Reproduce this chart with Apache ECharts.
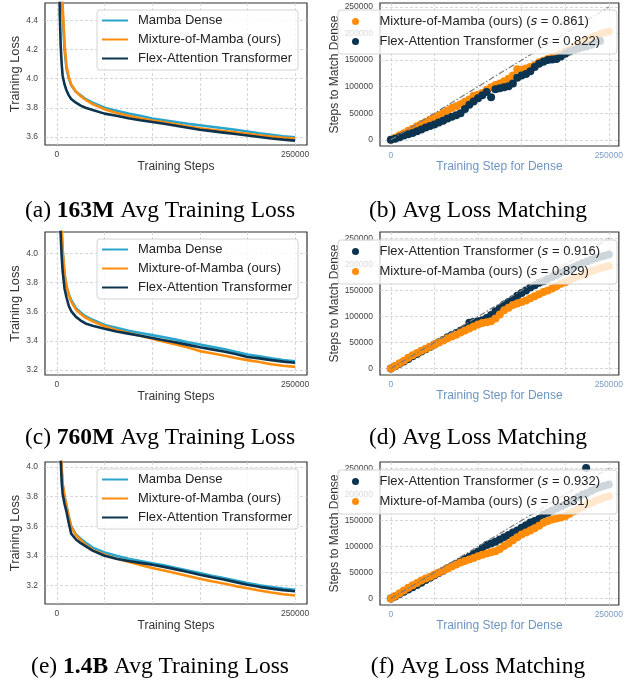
<!DOCTYPE html>
<html>
<head>
<meta charset="utf-8">
<title>Mixture-of-Mamba: training loss and loss matching</title>
<script src="https://cdn.jsdelivr.net/npm/echarts@6/dist/echarts.min.js"></script>
<style>
    html, body { margin: 0; padding: 0; background: #fff; }
    #chart { width: 626px; height: 683px; }
</style>
</head>
<body>
<div id="chart"></div>
<script>
// ---- training loss curves (left column) ----
var lossSteps = [1000, 2000, 3000, 4000, 5000, 6000, 8000, 10000, 12500, 15000, 20000, 25000, 30000, 37500, 50000,
    62500, 75000, 87500, 100000, 112500, 125000, 137500, 150000, 162500, 175000, 187500, 200000, 212500, 225000, 237500, 250000];

// 163M
var denseA = [7.5, 6.0, 5.2, 4.8, 4.6, 4.45, 4.2, 4.07, 4.0, 3.955, 3.91, 3.885, 3.86, 3.835, 3.80,
    3.78, 3.76, 3.745, 3.727, 3.715, 3.703, 3.69, 3.68, 3.67, 3.66, 3.65, 3.638, 3.625, 3.615, 3.605, 3.598];
var mixA = [7.6, 6.1, 5.3, 4.88, 4.66, 4.5, 4.24, 4.09, 4.01, 3.96, 3.91, 3.88, 3.855, 3.825, 3.79,
    3.765, 3.745, 3.728, 3.712, 3.70, 3.687, 3.672, 3.66, 3.65, 3.64, 3.632, 3.622, 3.612, 3.603, 3.595, 3.59];
var flexA = [6.5, 5.0, 4.45, 4.22, 4.1, 4.02, 3.96, 3.92, 3.885, 3.86, 3.835, 3.815, 3.80, 3.785, 3.76,
    3.745, 3.728, 3.715, 3.703, 3.69, 3.677, 3.663, 3.65, 3.64, 3.63, 3.62, 3.61, 3.60, 3.59, 3.582, 3.575];
// 760M
var denseC = [7.0, 5.5, 4.7, 4.35, 4.15, 4.02, 3.86, 3.78, 3.72, 3.68, 3.625, 3.595, 3.57, 3.545, 3.51,
    3.49, 3.47, 3.455, 3.44, 3.425, 3.41, 3.39, 3.375, 3.36, 3.345, 3.325, 3.307, 3.295, 3.28, 3.268, 3.26];
var mixC = [7.1, 5.6, 4.75, 4.38, 4.17, 4.03, 3.86, 3.775, 3.715, 3.67, 3.615, 3.585, 3.56, 3.535, 3.50,
    3.475, 3.455, 3.435, 3.415, 3.395, 3.375, 3.355, 3.33, 3.315, 3.30, 3.283, 3.268, 3.255, 3.24, 3.23, 3.222];
var flexC = [6.6, 5.0, 4.4, 4.12, 3.98, 3.88, 3.76, 3.70, 3.64, 3.605, 3.565, 3.54, 3.52, 3.505, 3.484,
    3.465, 3.45, 3.435, 3.42, 3.405, 3.39, 3.373, 3.357, 3.342, 3.327, 3.31, 3.29, 3.28, 3.268, 3.258, 3.25];
// 1.4B
var denseE = [7.0, 5.4, 4.6, 4.2, 3.98, 3.88, 3.8, 3.74, 3.665, 3.60, 3.545, 3.515, 3.49, 3.455, 3.423,
    3.40, 3.38, 3.365, 3.35, 3.335, 3.318, 3.30, 3.283, 3.265, 3.25, 3.233, 3.216, 3.20, 3.188, 3.178, 3.17];
var mixE = [7.1, 5.5, 4.65, 4.22, 4.0, 3.89, 3.8, 3.735, 3.66, 3.595, 3.54, 3.505, 3.475, 3.44, 3.407,
    3.38, 3.36, 3.338, 3.317, 3.30, 3.282, 3.263, 3.245, 3.228, 3.212, 3.195, 3.18, 3.165, 3.152, 3.14, 3.132];
var flexE = [6.6, 5.0, 4.35, 4.05, 3.9, 3.82, 3.75, 3.70, 3.62, 3.55, 3.51, 3.485, 3.465, 3.435, 3.40,
    3.38, 3.365, 3.352, 3.34, 3.325, 3.308, 3.29, 3.272, 3.255, 3.24, 3.222, 3.204, 3.19, 3.178, 3.168, 3.16];

var stepTicks = [0, 50000, 100000, 150000, 200000, 250000];
var stepLabels = [0, 250000];
var lossTicksA = [3.6, 3.8, 4.0, 4.2, 4.4];
var lossTicksCE = [3.2, 3.4, 3.6, 3.8, 4.0];

// ---- loss matching scatter (right column) ----
var matchSteps = [0, 5000, 10000, 15000, 20000, 25000, 30000, 35000, 40000, 45000,
    50000, 55000, 60000, 65000, 70000, 75000, 80000, 85000, 90000, 95000,
    100000, 105000, 110000, 115000, 120000, 125000, 130000, 135000, 140000, 145000,
    150000, 155000, 160000, 165000, 170000, 175000, 180000, 185000, 190000, 195000,
    200000, 205000, 210000, 215000, 220000, 225000, 230000, 235000, 240000, 245000, 250000];

var mixB = [0, 4000, 8500, 12500, 17000, 21000, 25500, 29500, 33500, 37500,
    41500, 46000, 50500, 55000, 60000, 63000, 67000, 71500, 76000, 83000,
    85000, 88000, 94000, 99000, 103000, 106000, 110000, 115000, 121000, 133000,
    132000, 134000, 137000, 141000, 146000, 149000, 152000, 155000, 158000, 162000,
    166000, 170000, 175000, 180000, 184000, 188000, 192000, 196000, 199000, 202000, 204000];
var flexB = [0, 2000, 5000, 8000, 10500, 13000, 16000, 19500, 23000, 26000,
    29000, 32500, 36000, 40000, 43500, 46000, 50000, 58000, 66000, 72000,
    78000, 84000, 90000, 80000, 95000, 97000, 99000, 101000, 106000, 117000,
    121000, 124000, 129000, 137000, 143000, 147000, 150000, 151000, 152000, 157000,
    162000, 166000, 169000, 172000, 174000, 176000, 179000, 183000, 186000, null, null];

var flexD = [0, 4500, 9000, 13500, 18500, 23500, 28000, 32500, 37000, 41500,
    46000, 50500, 55000, 60000, 64500, 68500, 72500, 77000, 88000, 90000,
    91000, 93000, 97000, 103000, 110000, 116000, 123000, 128000, 133000, 140000,
    145000, 150000, 156000, 160000, 165000, 168000, 172000, 176000, 180000, 184000,
    187000, 191000, 195000, 199000, 203000, 206000, 209000, 212000, 215000, 217000, 219000];
var mixD = [0, 5000, 10000, 15000, 20500, 25500, 30000, 34000, 38000, 42000,
    46000, 50000, 54000, 58000, 61500, 65000, 69000, 73000, 77000, 81000,
    84500, 87500, 89000, 91000, 96000, 104000, 112000, 117000, 122000, 125000,
    128000, 131000, 135000, 139000, 143000, 147000, 150000, 154000, 158000, 163000,
    166000, 170000, 174000, 177000, 180000, 184000, 187000, 190000, 193000, 195000, 197000];

var flexF = [0, 4000, 8500, 13000, 17500, 21800, 26000, 30500, 35500, 40000,
    44900, 49000, 53500, 58000, 62500, 66700, 71000, 76000, 80500, 85500,
    89700, 97000, 103000, 106000, 109000, 113500, 118000, 122000, 127000, 131000,
    135900, 141000, 146000, 149000, 153000, 161500, 165000, 169000, 173000, 177000,
    180800, 185000, 190000, 195000, 200000, 203000, 207000, 211000, 214000, 217000, 219000];
var mixF = [0, 5000, 10000, 15500, 20500, 25600, 30000, 34500, 38500, 42000,
    46000, 50000, 54000, 57500, 61500, 65400, 69000, 72000, 75000, 78000,
    81400, 84000, 86500, 89000, 91000, 95000, 101000, 106000, 112000, 118000,
    123000, 127000, 131000, 135000, 140000, 145500, 149000, 152000, 154000, 156000,
    158300, 163000, 168000, 172000, 176000, 180800, 184000, 188000, 191000, 194000, 196800];
// single stray Flex-Attention point in the 1.4B panel
var outlierStepF = [224000];
var outlierMatchF = [251000];

var diagonal = [0, 250000];
var matchTicks = [0, 50000, 100000, 150000, 200000, 250000];

var lossNames = ['Mamba Dense', 'Mixture-of-Mamba (ours)', 'Flex-Attention Transformer'];
var namesB = ['Mixture-of-Mamba (ours) (s = 0.861)', 'Flex-Attention Transformer (s = 0.822)'];
var namesD = ['Flex-Attention Transformer (s = 0.916)', 'Mixture-of-Mamba (ours) (s = 0.829)'];
var namesF = ['Flex-Attention Transformer (s = 0.932)', 'Mixture-of-Mamba (ours) (s = 0.831)'];

var captions = [
    '(a) {b|163M} Avg Training Loss', '(b) Avg Loss Matching',
    '(c) {b|760M} Avg Training Loss', '(d) Avg Loss Matching',
    '(e) {b|1.4B} Avg Training Loss', '(f) Avg Loss Matching'
];

var cBlue = '#2aa5cb', cOrange = '#ff8c0a', cNavy = '#0c3450';
var sans = 'Liberation Sans, Arial, sans-serif';
var serif = 'Liberation Serif, Times New Roman, serif';

function zip(xs, ys) {
    var out = [];
    for (var i = 0; i < xs.length; i++) {
        if (ys[i] != null) out.push([xs[i], ys[i]]);
    }
    return out;
}

var splitStyle = { show: true, lineStyle: { color: '#cdcdcd', type: [3, 2], width: 0.8 } };
var tickText = { fontSize: 8.5, color: '#444', fontFamily: sans };

function lossX(i) {
    return {
        type: 'value', gridIndex: i, min: -12500, max: 262500,
        axisLine: { show: false },
        axisTick: { show: false, customValues: stepTicks },
        axisLabel: Object.assign({ customValues: stepLabels, formatter: function (v) { return String(v); }, margin: 5 }, tickText),
        splitLine: splitStyle,
        name: 'Training Steps', nameLocation: 'middle', nameGap: 16,
        nameTextStyle: { fontSize: 12, color: '#333', fontFamily: sans }
    };
}
function lossY(i, min, max, ticks) {
    return {
        type: 'value', gridIndex: i, min: min, max: max,
        axisLine: { show: false },
        axisTick: { show: false, customValues: ticks },
        axisLabel: Object.assign({ customValues: ticks, formatter: function (v) { return v.toFixed(1); }, margin: 7 }, tickText),
        splitLine: splitStyle,
        name: 'Training Loss', nameLocation: 'middle', nameGap: 21,
        nameTextStyle: { fontSize: 12.8, color: '#333', fontFamily: sans }
    };
}
function matchX(i) {
    return {
        type: 'value', gridIndex: i, min: -12400, max: 261500,
        axisLine: { show: false },
        axisTick: { show: false, customValues: matchTicks },
        axisLabel: { customValues: stepLabels, formatter: function (v) { return String(v); }, margin: 5,
            fontSize: 8.5, color: '#7b9cc5', fontFamily: sans },
        splitLine: splitStyle,
        name: 'Training Step for Dense', nameLocation: 'middle', nameGap: 15,
        nameTextStyle: { fontSize: 12, color: '#6f94c0', fontFamily: sans }
    };
}
function matchY(i, min, max) {
    return {
        type: 'value', gridIndex: i, min: min, max: max,
        axisLine: { show: false },
        axisTick: { show: false, customValues: matchTicks },
        axisLabel: Object.assign({ customValues: matchTicks, formatter: function (v) { return String(v); }, margin: 7 }, tickText),
        splitLine: splitStyle,
        name: 'Steps to Match Dense', nameLocation: 'middle', nameGap: 38,
        nameTextStyle: { fontSize: 12, color: '#333', fontFamily: sans }
    };
}

function lossLegend(top) {
    return {
        orient: 'vertical', left: 97, top: top, data: lossNames,
        icon: 'rect', itemWidth: 26, itemHeight: 2, itemGap: 6,
        padding: [4, 6, 5, 5],
        backgroundColor: 'rgba(255,255,255,0.8)', borderColor: '#d4d4d4', borderWidth: 1, borderRadius: 3,
        textStyle: { fontSize: 13, color: '#222', fontFamily: sans, padding: [0, 0, 0, 5] },
        selectedMode: false
    };
}
function matchLegend(top, names) {
    return {
        orient: 'vertical', left: 338, top: top, data: names,
        icon: 'circle', itemWidth: 12, itemHeight: 7, itemGap: 7,
        padding: [5, 17, 6, 14],
        backgroundColor: 'rgba(255,255,255,0.8)', borderColor: '#d4d4d4', borderWidth: 1, borderRadius: 3,
        formatter: function (name) { return '{sp| }' + name.replace('(s = ', '({it|s} = '); },
        textStyle: { fontSize: 13, color: '#222', fontFamily: sans,
            rich: {
                sp: { width: 13, fontSize: 13 },
                it: { fontStyle: 'italic', fontFamily: 'DejaVu Sans', fontSize: 13, color: '#222' }
            } },
        selectedMode: false
    };
}

function lossSeries(i, dense, mix, flex) {
    var list = [[lossNames[0], dense, cBlue], [lossNames[1], mix, cOrange], [lossNames[2], flex, cNavy]];
    return list.map(function (s) {
        return {
            type: 'line', name: s[0], xAxisIndex: i, yAxisIndex: i,
            data: zip(lossSteps, s[1]), color: s[2],
            showSymbol: false, symbol: 'none', lineStyle: { width: 2.6 }, clip: true
        };
    });
}
function matchSeries(i, names, ys, colors) {
    var out = names.map(function (n, k) {
        return {
            type: 'scatter', name: n, xAxisIndex: i, yAxisIndex: i,
            data: zip(matchSteps, ys[k]), color: colors[k],
            symbolSize: 8, itemStyle: { opacity: 1 }
        };
    });
    out.push({
        type: 'line', name: 'y = x', xAxisIndex: i, yAxisIndex: i,
        data: zip(diagonal, diagonal), showSymbol: false, symbol: 'none', silent: true,
        lineStyle: { color: '#7a7a7a', width: 1.2, type: [6, 2, 1.5, 2] }
    });
    return out;
}

var chart = echarts.init(document.getElementById('chart'));

var flexFData = zip(matchSteps, flexF).concat(zip(outlierStepF, outlierMatchF));
var seriesF = matchSeries(5, namesF, [flexF, mixF], [cNavy, cOrange]);
seriesF[0].data = flexFData;

var option = {
    animation: false,
    backgroundColor: '#fff',
    grid: [
        { left: 45, top: 3, width: 262, height: 142 },
        { left: 380, top: 3, width: 242, height: 143 },
        { left: 45, top: 232, width: 262, height: 143 },
        { left: 380, top: 232, width: 241, height: 143 },
        { left: 45, top: 462, width: 262, height: 142 },
        { left: 380, top: 462, width: 241, height: 143 }
    ].map(function (g) {
        return Object.assign({ show: true, borderColor: '#333', borderWidth: 1.2, backgroundColor: '#fff' }, g);
    }),
    xAxis: [lossX(0), matchX(1), lossX(2), matchX(3), lossX(4), matchX(5)],
    yAxis: [
        lossY(0, 3.545, 4.518, lossTicksA),
        matchY(1, -11700, 257500),
        lossY(2, 3.166, 4.148, lossTicksCE),
        matchY(3, -12500, 262500),
        lossY(4, 3.074, 4.034, lossTicksCE),
        matchY(5, -12500, 262500)
    ],
    legend: [
        lossLegend(10), matchLegend(10, namesB),
        lossLegend(239), matchLegend(240, namesD),
        lossLegend(469), matchLegend(470, namesF)
    ],
    series: [].concat(
        lossSeries(0, denseA, mixA, flexA),
        matchSeries(1, namesB, [mixB, flexB], [cOrange, cNavy]),
        lossSeries(2, denseC, mixC, flexC),
        matchSeries(3, namesD, [flexD, mixD], [cNavy, cOrange]),
        lossSeries(4, denseE, mixE, flexE),
        seriesF
    ),
    graphic: captions.map(function (text, k) {
        return {
            type: 'text',
            x: k % 2 === 0 ? 160 : 478,
            y: [211, 211, 438, 438, 667, 667][k],
            style: {
                text: text, align: 'center', verticalAlign: 'middle',
                font: '23.5px ' + serif, fill: '#000',
                rich: { b: { fontWeight: 'bold', fontSize: 23.5, fontFamily: serif, fill: '#000' } }
            }
        };
    })
};

chart.setOption(option);
</script>
</body>
</html>
